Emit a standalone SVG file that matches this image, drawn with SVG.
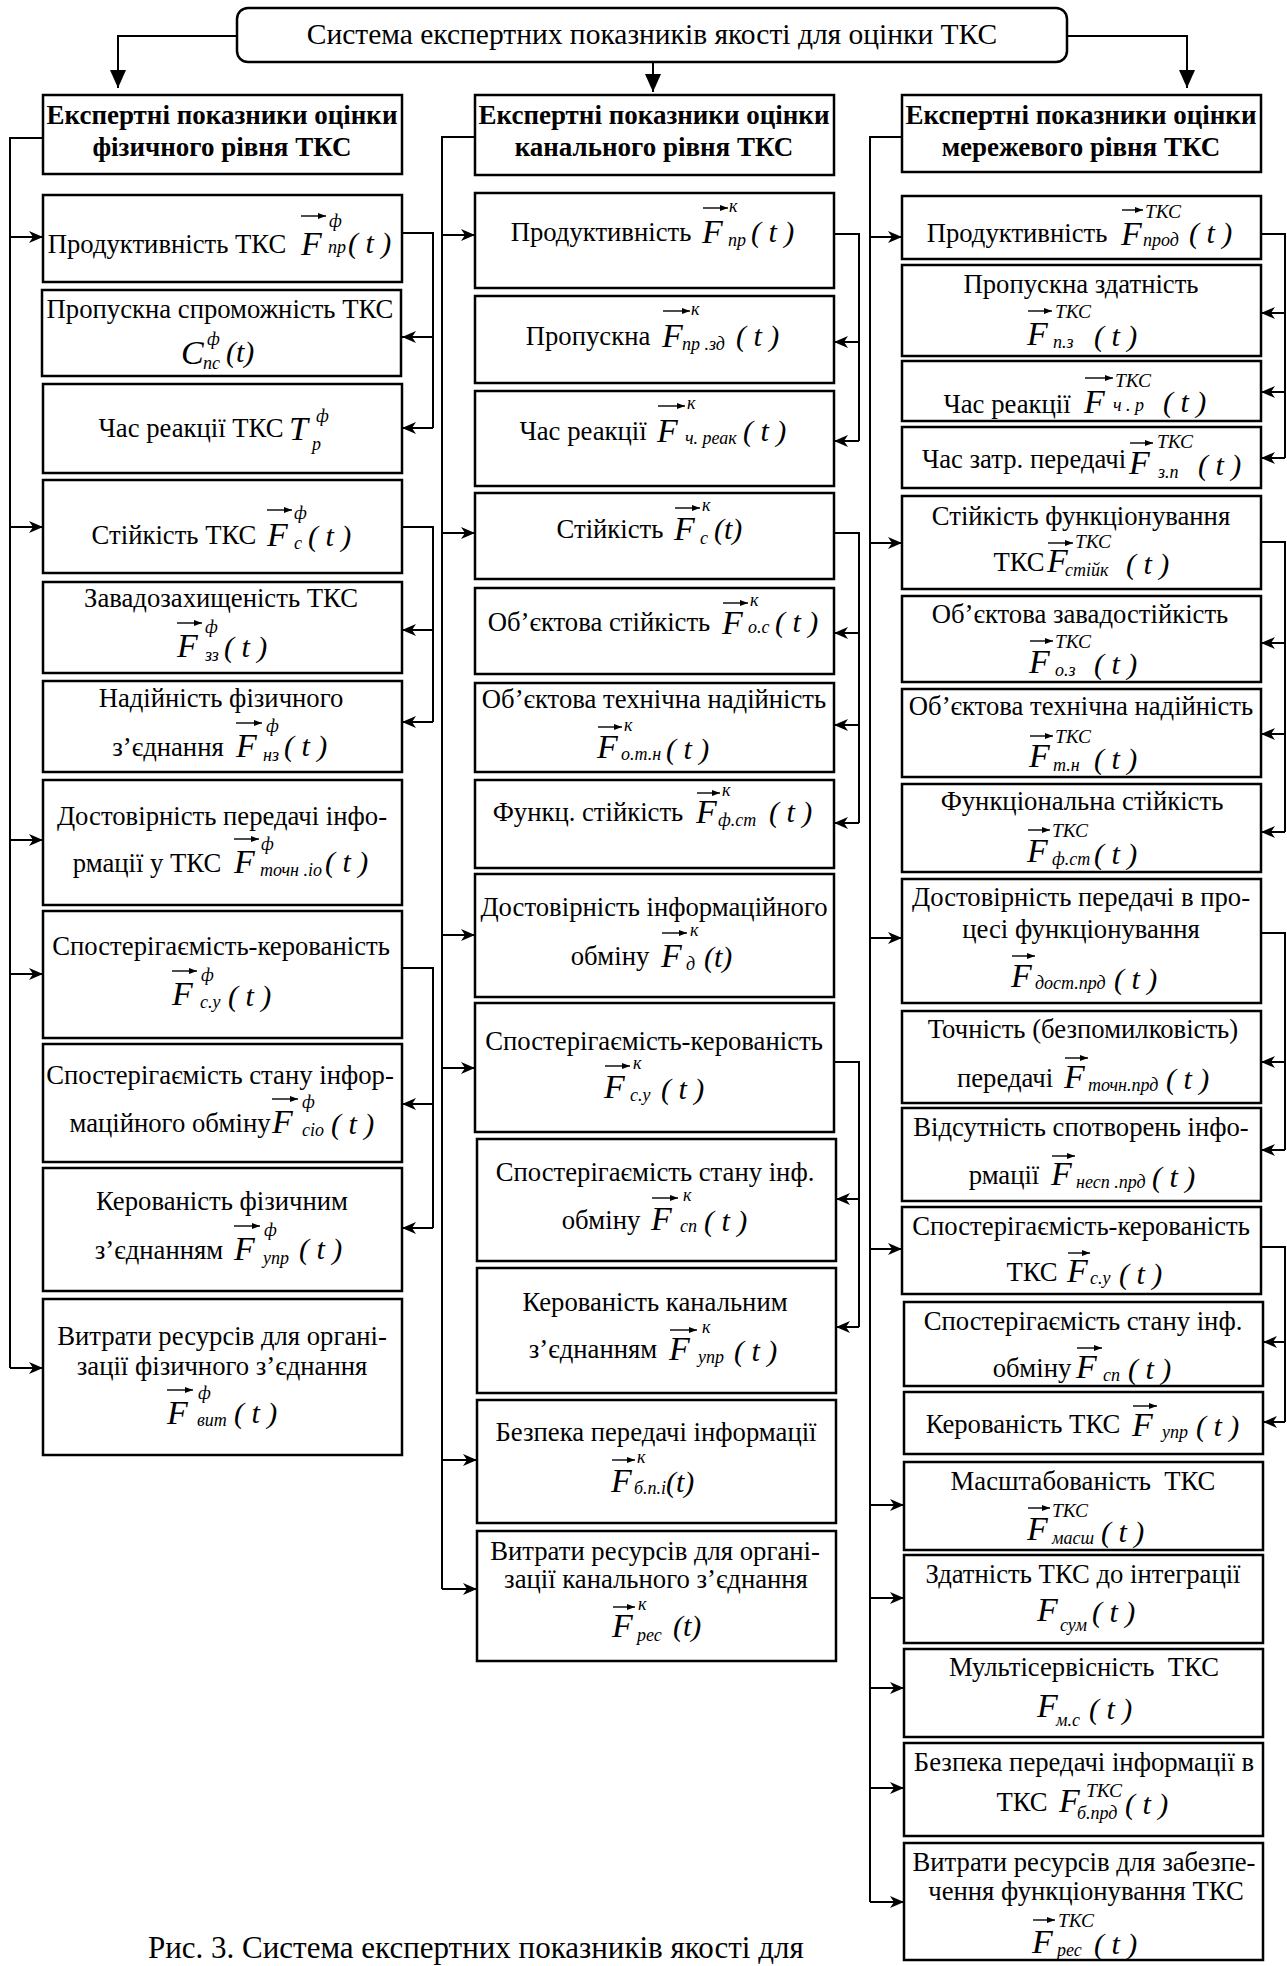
<svg xmlns="http://www.w3.org/2000/svg" width="1287" height="1966" viewBox="0 0 1287 1966">
<style>
text{font-family:"Liberation Serif","Times New Roman",serif;fill:#000}
.t{font-size:26.7px;text-anchor:middle}
.h{font-size:27px;font-weight:bold;text-anchor:middle}
.ti{font-size:29.5px;text-anchor:middle}
.cap{font-size:31px}
.F{font-size:34px;font-style:italic}
.s{font-size:18px;font-style:italic}
.S{font-size:19.5px;font-style:italic}
.p{font-size:30px;font-style:italic}
.b{fill:#fff;stroke:#000;stroke-width:2.5}
.c{fill:none;stroke:#000;stroke-width:2}
.v{fill:none;stroke:#000;stroke-width:1.4;marker-end:url(#vec)}
.a{marker-end:url(#arr)}
.A{marker-end:url(#big)}
</style>
<defs>
<marker id="arr" markerUnits="userSpaceOnUse" markerWidth="14" markerHeight="12" refX="14" refY="6" orient="auto"><path d="M0,0 L14,6 L0,12 L4,6 z" fill="#000"/></marker>
<marker id="big" markerUnits="userSpaceOnUse" markerWidth="16" markerHeight="18" refX="8" refY="18" orient="0"><path d="M0,0 L16,0 L8,18 z" fill="#000"/></marker>
<marker id="vec" markerUnits="userSpaceOnUse" markerWidth="8" markerHeight="6" refX="8" refY="3" orient="auto"><path d="M0,0 L8,3 L0,6 z" fill="#000"/></marker>
</defs>
<rect width="1287" height="1966" fill="#fff"/>

<g id="connectors">
<path class="c A" d="M237,36 H118 V88"/>
<path class="c A" d="M653,62 V92"/>
<path class="c A" d="M1067,36 H1187 V88"/>
<path class="c" d="M43,138 H10 V1368"/>
<path class="c a" d="M10,237 H43"/>
<path class="c a" d="M10,527 H43"/>
<path class="c a" d="M10,840 H43"/>
<path class="c a" d="M10,974 H43"/>
<path class="c a" d="M10,1368 H43"/>
<path class="c" d="M402,233 H433 V428"/>
<path class="c a" d="M433,337 H402"/>
<path class="c a" d="M433,428 H402"/>
<path class="c" d="M402,527 H433 V722"/>
<path class="c a" d="M433,630 H402"/>
<path class="c a" d="M433,722 H402"/>
<path class="c" d="M402,968 H433 V1228"/>
<path class="c a" d="M433,1104 H402"/>
<path class="c a" d="M433,1228 H402"/>
<path class="c" d="M475,137 H442 V1589"/>
<path class="c a" d="M442,235 H475"/>
<path class="c a" d="M442,533 H475"/>
<path class="c a" d="M442,935 H475"/>
<path class="c a" d="M442,1068 H475"/>
<path class="c a" d="M442,1460 H477"/>
<path class="c a" d="M442,1589 H477"/>
<path class="c" d="M834,234 H859 V441"/>
<path class="c a" d="M859,342 H834"/>
<path class="c a" d="M859,441 H834"/>
<path class="c" d="M834,533 H859 V823"/>
<path class="c a" d="M859,633 H834"/>
<path class="c a" d="M859,725 H834"/>
<path class="c a" d="M859,823 H834"/>
<path class="c" d="M834,1062 H859 V1327"/>
<path class="c a" d="M859,1199 H836"/>
<path class="c a" d="M859,1327 H836"/>
<path class="c" d="M902,137 H870 V1902"/>
<path class="c a" d="M870,237 H902"/>
<path class="c a" d="M870,543 H902"/>
<path class="c a" d="M870,938 H902"/>
<path class="c a" d="M870,1249 H902"/>
<path class="c a" d="M870,1505 H904"/>
<path class="c a" d="M870,1598 H904"/>
<path class="c a" d="M870,1688 H904"/>
<path class="c a" d="M870,1788 H904"/>
<path class="c a" d="M870,1902 H904"/>
<path class="c" d="M1261,234 H1285 V458"/>
<path class="c a" d="M1285,313 H1261"/>
<path class="c a" d="M1285,392 H1261"/>
<path class="c a" d="M1285,458 H1261"/>
<path class="c" d="M1261,542 H1285 V832"/>
<path class="c a" d="M1285,643 H1261"/>
<path class="c a" d="M1285,734 H1261"/>
<path class="c a" d="M1285,832 H1261"/>
<path class="c" d="M1261,933 H1285 V1150"/>
<path class="c a" d="M1285,1062 H1261"/>
<path class="c a" d="M1285,1150 H1261"/>
<path class="c" d="M1261,1247 H1285 V1422"/>
<path class="c a" d="M1285,1342 H1263"/>
<path class="c a" d="M1285,1422 H1263"/>
</g>

<g id="root">
<rect class="b" x="237" y="8" width="830" height="54" rx="11"/>
<text class="ti" x="652" y="44">Система експертних показників якості для оцінки ТКС</text>
</g>

<g id="hdrL"><rect class="b" x="43" y="95" width="359" height="79"/>
<text class="h" x="222" y="124">Експертні показники оцінки</text><text class="h" x="222" y="156">фізичного рівня ТКС</text></g>
<g id="hdrM"><rect class="b" x="475" y="95" width="359" height="80"/>
<text class="h" x="654" y="124">Експертні показники оцінки</text><text class="h" x="654" y="156">канального рівня ТКС</text></g>
<g id="hdrR"><rect class="b" x="902" y="95" width="359" height="77"/>
<text class="h" x="1081" y="124">Експертні показники оцінки</text><text class="h" x="1081" y="156">мережевого рівня ТКС</text></g>

<!-- LEFT COLUMN -->
<g id="L1"><rect class="b" x="43" y="195" width="359" height="87"/>
<text class="t" x="167" y="253">Продуктивність ТКС</text>
<text class="F" x="301" y="255">F</text><path class="v" d="M301,216 H326"/>
<text class="s" x="329" y="227">ф</text><text class="s" x="328" y="253">пр</text><text class="p" x="348" y="253">( t )</text></g>

<g id="L2"><rect class="b" x="42" y="290" width="359" height="86"/>
<text class="t" x="220" y="318">Пропускна спроможність ТКС</text>
<text class="F" x="181" y="364">C</text>
<text class="s" x="207" y="345">ф</text><text class="s" x="203" y="369">пс</text><text class="p" x="226" y="362">(t)</text></g>

<g id="L3"><rect class="b" x="43" y="384" width="359" height="89"/>
<text class="t" x="191" y="437">Час реакції ТКС</text>
<text class="F" x="289" y="440">T</text>
<text class="s" x="316" y="422">ф</text><text class="s" x="312" y="450">р</text></g>

<g id="L4"><rect class="b" x="43" y="480" width="359" height="93"/>
<text class="t" x="174" y="544">Стійкість ТКС</text>
<text class="F" x="267" y="546">F</text><path class="v" d="M267,510 H292"/>
<text class="s" x="294" y="519">ф</text><text class="s" x="294" y="549">с</text><text class="p" x="308" y="546">( t )</text></g>

<g id="L5"><rect class="b" x="43" y="582" width="359" height="91"/>
<text class="t" x="221" y="607">Завадозахищеність ТКС</text>
<text class="F" x="177" y="657">F</text><path class="v" d="M177,623 H202"/>
<text class="s" x="205" y="633">ф</text><text class="s" x="205" y="661">зз</text><text class="p" x="224" y="657">( t )</text></g>

<g id="L6"><rect class="b" x="43" y="681" width="359" height="91"/>
<text class="t" x="221" y="707">Надійність фізичного</text>
<text class="t" x="168" y="756">з’єднання</text>
<text class="F" x="236" y="757">F</text><path class="v" d="M236,723 H262"/>
<text class="s" x="266" y="732">ф</text><text class="s" x="263" y="761">нз</text><text class="p" x="284" y="756">( t )</text></g>

<g id="L7"><rect class="b" x="43" y="780" width="359" height="125"/>
<text class="t" x="222" y="825">Достовірність передачі інфо-</text>
<text class="t" x="147" y="872">рмації у ТКС</text>
<text class="F" x="234" y="873">F</text><path class="v" d="M234,839 H259"/>
<text class="s" x="261" y="850">ф</text><text class="s" x="260" y="876">точн .іо</text><text class="p" x="325" y="872">( t )</text></g>

<g id="L8"><rect class="b" x="43" y="911" width="359" height="127"/>
<text class="t" x="221" y="955">Спостерігаємість-керованість</text>
<text class="F" x="172" y="1005">F</text><path class="v" d="M172,971 H197"/>
<text class="s" x="201" y="981">ф</text><text class="s" x="200" y="1008">с.у</text><text class="p" x="228" y="1006">( t )</text></g>

<g id="L9"><rect class="b" x="43" y="1044" width="359" height="118"/>
<text class="t" x="220" y="1084">Спостерігаємість стану інфор-</text>
<text class="t" x="170" y="1132">маційного обміну</text>
<text class="F" x="272" y="1133">F</text><path class="v" d="M272,1099 H298"/>
<text class="s" x="302" y="1108">ф</text><text class="s" x="302" y="1136">сіо</text><text class="p" x="331" y="1134">( t )</text></g>

<g id="L10"><rect class="b" x="43" y="1168" width="359" height="123"/>
<text class="t" x="222" y="1210">Керованість фізичним</text>
<text class="t" x="159" y="1259">з’єднанням</text>
<text class="F" x="234" y="1260">F</text><path class="v" d="M234,1226 H260"/>
<text class="s" x="264" y="1236">ф</text><text class="s" x="263" y="1264">упр</text><text class="p" x="299" y="1259">( t )</text></g>

<g id="L11"><rect class="b" x="43" y="1299" width="359" height="156"/>
<text class="t" x="222" y="1345">Витрати ресурсів для органі-</text>
<text class="t" x="222" y="1375">зації фізичного з’єднання</text>
<text class="F" x="167" y="1424">F</text><path class="v" d="M167,1390 H193"/>
<text class="s" x="198" y="1399">ф</text><text class="s" x="197" y="1426">вит</text><text class="p" x="234" y="1423">( t )</text></g>

<!-- MIDDLE COLUMN -->
<g id="M1"><rect class="b" x="475" y="193" width="359" height="95"/>
<text class="t" x="601" y="241">Продуктивність</text>
<text class="F" x="702" y="243">F</text><path class="v" d="M703,208 H728"/>
<text class="s" x="729" y="212">к</text><text class="s" x="728" y="246">пр</text><text class="p" x="751" y="242">( t )</text></g>

<g id="M2"><rect class="b" x="475" y="296" width="359" height="87"/>
<text class="t" x="588" y="345">Пропускна</text>
<text class="F" x="662" y="347">F</text><path class="v" d="M663,311 H690"/>
<text class="s" x="691" y="315">к</text><text class="s" x="682" y="350">пр .зд</text><text class="p" x="736" y="346">( t )</text></g>

<g id="M3"><rect class="b" x="475" y="391" width="359" height="95"/>
<text class="t" x="583" y="440">Час реакції</text>
<text class="F" x="657" y="442">F</text><path class="v" d="M658,406 H685"/>
<text class="s" x="687" y="409">к</text><text class="s" x="685" y="444">ч. реак</text><text class="p" x="743" y="441">( t )</text></g>

<g id="M4"><rect class="b" x="475" y="493" width="359" height="86"/>
<text class="t" x="610" y="538">Стійкість</text>
<text class="F" x="674" y="540">F</text><path class="v" d="M675,508 H700"/>
<text class="s" x="702" y="511">к</text><text class="s" x="700" y="544">с</text><text class="p" x="714" y="539">(t)</text></g>

<g id="M5"><rect class="b" x="475" y="588" width="359" height="86"/>
<text class="t" x="599" y="631">Об’єктова стійкість</text>
<text class="F" x="722" y="634">F</text><path class="v" d="M723,603 H748"/>
<text class="s" x="750" y="606">к</text><text class="s" x="748" y="633">о.с</text><text class="p" x="775" y="632">( t )</text></g>

<g id="M6"><rect class="b" x="475" y="683" width="359" height="89"/>
<text class="t" x="654" y="708">Об’єктова технічна надійність</text>
<text class="F" x="597" y="758">F</text><path class="v" d="M598,727 H622"/>
<text class="s" x="624" y="731">к</text><text class="s" x="621" y="760">о.т.н</text><text class="p" x="666" y="759">( t )</text></g>

<g id="M7"><rect class="b" x="475" y="780" width="359" height="88"/>
<text class="t" x="588" y="821">Функц. стійкість</text>
<text class="F" x="696" y="823">F</text><path class="v" d="M697,793 H720"/>
<text class="s" x="722" y="796">к</text><text class="s" x="718" y="826">ф.ст</text><text class="p" x="769" y="822">( t )</text></g>

<g id="M8"><rect class="b" x="475" y="874" width="359" height="123"/>
<text class="t" x="654" y="916">Достовірність інформаційного</text>
<text class="F" x="661" y="967">F</text><path class="v" d="M662,933 H687"/>
<text class="t" x="610" y="965">обміну</text>
<text class="s" x="690" y="936">к</text><text class="s" x="686" y="970">д</text><text class="p" x="704" y="967">(t)</text></g>

<g id="M9"><rect class="b" x="475" y="1003" width="359" height="129"/>
<text class="t" x="654" y="1050">Спостерігаємість-керованість</text>
<text class="F" x="604" y="1098">F</text><path class="v" d="M605,1066 H630"/>
<text class="s" x="633" y="1069">к</text><text class="s" x="630" y="1101">с.у</text><text class="p" x="661" y="1099">( t )</text></g>

<g id="M10"><rect class="b" x="477" y="1139" width="359" height="122"/>
<text class="t" x="655" y="1181">Спостерігаємість стану інф.</text>
<text class="t" x="601" y="1229">обміну</text>
<text class="F" x="651" y="1230">F</text><path class="v" d="M652,1198 H678"/>
<text class="s" x="683" y="1201">к</text><text class="s" x="680" y="1232">сп</text><text class="p" x="704" y="1231">( t )</text></g>

<g id="M11"><rect class="b" x="477" y="1268" width="359" height="125"/>
<text class="t" x="655" y="1311">Керованість канальним</text>
<text class="t" x="593" y="1358">з’єднанням</text>
<text class="F" x="669" y="1360">F</text><path class="v" d="M670,1330 H697"/>
<text class="s" x="702" y="1333">к</text><text class="s" x="698" y="1363">упр</text><text class="p" x="734" y="1361">( t )</text></g>

<g id="M12"><rect class="b" x="477" y="1400" width="359" height="123"/>
<text class="t" x="656" y="1441">Безпека передачі інформації</text>
<text class="F" x="611" y="1492">F</text><path class="v" d="M612,1460 H635"/>
<text class="s" x="637" y="1463">к</text><text class="s" x="634" y="1494">б.п.і</text><text class="p" x="666" y="1492">(t)</text></g>

<g id="M13"><rect class="b" x="477" y="1531" width="359" height="130"/>
<text class="t" x="655" y="1560">Витрати ресурсів для органі-</text>
<text class="t" x="656" y="1588">зації канального з’єднання</text>
<text class="F" x="612" y="1637">F</text><path class="v" d="M613,1607 H635"/>
<text class="s" x="638" y="1610">к</text><text class="s" x="637" y="1641">рес</text><text class="p" x="673" y="1636">(t)</text></g>

<!-- RIGHT COLUMN -->
<g id="R1"><rect class="b" x="902" y="196" width="359" height="63"/>
<text class="t" x="1017" y="242">Продуктивність</text>
<text class="F" x="1121" y="245">F</text><path class="v" d="M1122,210 H1143"/>
<text class="S" x="1145" y="218">ТКС</text><text class="s" x="1143" y="246">прод</text><text class="p" x="1189" y="243">( t )</text></g>

<g id="R2"><rect class="b" x="902" y="265" width="359" height="91"/>
<text class="t" x="1081" y="293">Пропускна здатність</text>
<text class="F" x="1027" y="345">F</text><path class="v" d="M1028,311 H1052"/>
<text class="S" x="1055" y="318">ТКС</text><text class="s" x="1053" y="348">п.з</text><text class="p" x="1094" y="346">( t )</text></g>

<g id="R3"><rect class="b" x="902" y="361" width="359" height="60"/>
<text class="t" x="1007" y="413">Час реакції</text>
<text class="F" x="1084" y="413">F</text><path class="v" d="M1085,378 H1113"/>
<text class="S" x="1115" y="387">ТКС</text><text class="s" x="1113" y="411">ч . р</text><text class="p" x="1163" y="412">( t )</text></g>

<g id="R4"><rect class="b" x="902" y="427" width="359" height="61"/>
<text class="t" x="1024" y="468">Час затр. передачі</text>
<text class="F" x="1129" y="474">F</text><path class="v" d="M1130,443 H1153"/>
<text class="S" x="1157" y="448">ТКС</text><text class="s" x="1158" y="478">з.п</text><text class="p" x="1198" y="475">( t )</text></g>

<g id="R5"><rect class="b" x="902" y="496" width="359" height="93"/>
<text class="t" x="1081" y="525">Стійкість функціонування</text>
<text class="t" x="1019" y="571">ТКС</text>
<text class="F" x="1047" y="572">F</text><path class="v" d="M1048,543 H1073"/>
<text class="S" x="1075" y="548">ТКС</text><text class="s" x="1065" y="576">стійк</text><text class="p" x="1126" y="574">( t )</text></g>

<g id="R6"><rect class="b" x="902" y="596" width="359" height="86"/>
<text class="t" x="1080" y="623">Об’єктова завадостійкість</text>
<text class="F" x="1029" y="673">F</text><path class="v" d="M1030,641 H1053"/>
<text class="S" x="1055" y="648">ТКС</text><text class="s" x="1055" y="676">о.з</text><text class="p" x="1094" y="674">( t )</text></g>

<g id="R7"><rect class="b" x="902" y="689" width="359" height="88"/>
<text class="t" x="1081" y="715">Об’єктова технічна надійність</text>
<text class="F" x="1029" y="767">F</text><path class="v" d="M1030,736 H1053"/>
<text class="S" x="1055" y="743">ТКС</text><text class="s" x="1053" y="771">т.н</text><text class="p" x="1094" y="769">( t )</text></g>

<g id="R8"><rect class="b" x="902" y="784" width="359" height="88"/>
<text class="t" x="1082" y="810">Функціональна стійкість</text>
<text class="F" x="1027" y="862">F</text><path class="v" d="M1028,830 H1050"/>
<text class="S" x="1052" y="837">ТКС</text><text class="s" x="1052" y="865">ф.ст</text><text class="p" x="1094" y="864">( t )</text></g>

<g id="R9"><rect class="b" x="902" y="879" width="359" height="124"/>
<text class="t" x="1081" y="906">Достовірність передачі в про-</text>
<text class="t" x="1081" y="938">цесі функціонування</text>
<text class="F" x="1011" y="987">F</text><path class="v" d="M1012,956 H1035"/>
<text class="s" x="1035" y="989">дост.прд</text><text class="p" x="1114" y="989">( t )</text></g>

<g id="R10"><rect class="b" x="902" y="1011" width="359" height="92"/>
<text class="t" x="1083" y="1038">Точність (безпомилковість)</text>
<text class="t" x="1005" y="1087">передачі</text>
<text class="F" x="1064" y="1088">F</text><path class="v" d="M1065,1058 H1088"/>
<text class="s" x="1088" y="1091">точн.прд</text><text class="p" x="1166" y="1089">( t )</text></g>

<g id="R11"><rect class="b" x="902" y="1108" width="359" height="93"/>
<text class="t" x="1081" y="1136">Відсутність спотворень інфо-</text>
<text class="t" x="1004" y="1184">рмації</text>
<text class="F" x="1051" y="1185">F</text><path class="v" d="M1052,1156 H1075"/>
<text class="s" x="1076" y="1188">несп .прд</text><text class="p" x="1152" y="1187">( t )</text></g>

<g id="R12"><rect class="b" x="902" y="1207" width="359" height="87"/>
<text class="t" x="1081" y="1235">Спостерігаємість-керованість</text>
<text class="t" x="1032" y="1281">ТКС</text>
<text class="F" x="1067" y="1282">F</text><path class="v" d="M1068,1253 H1090"/>
<text class="s" x="1090" y="1284">с.у</text><text class="p" x="1119" y="1284">( t )</text></g>

<g id="R13"><rect class="b" x="904" y="1302" width="359" height="84"/>
<text class="t" x="1083" y="1330">Спостерігаємість стану інф.</text>
<text class="t" x="1032" y="1377">обміну</text>
<text class="F" x="1076" y="1378">F</text><path class="v" d="M1077,1348 H1102"/>
<text class="s" x="1103" y="1381">сп</text><text class="p" x="1128" y="1379">( t )</text></g>

<g id="R14"><rect class="b" x="904" y="1392" width="359" height="62"/>
<text class="t" x="1023" y="1433">Керованість ТКС</text>
<text class="F" x="1132" y="1436">F</text><path class="v" d="M1133,1406 H1157"/>
<text class="s" x="1162" y="1438">упр</text><text class="p" x="1196" y="1436">( t )</text></g>

<g id="R15"><rect class="b" x="904" y="1462" width="359" height="88"/>
<text class="t" x="1083" y="1490">Масштабованість&#160; ТКС</text>
<text class="F" x="1027" y="1540">F</text><path class="v" d="M1028,1508 H1050"/>
<text class="S" x="1052" y="1517">ТКС</text><text class="s" x="1052" y="1544">масш</text><text class="p" x="1101" y="1542">( t )</text></g>

<g id="R16"><rect class="b" x="904" y="1555" width="359" height="88"/>
<text class="t" x="1083" y="1583">Здатність ТКС до інтеграції</text>
<text class="F" x="1037" y="1621">F</text>
<text class="s" x="1060" y="1631">сум</text><text class="p" x="1092" y="1622">( t )</text></g>

<g id="R17"><rect class="b" x="904" y="1649" width="359" height="88"/>
<text class="t" x="1084" y="1676">Мультісервісність&#160; ТКС</text>
<text class="F" x="1037" y="1717">F</text>
<text class="s" x="1056" y="1726">м.с</text><text class="p" x="1089" y="1719">( t )</text></g>

<g id="R18"><rect class="b" x="904" y="1743" width="359" height="93"/>
<text class="t" x="1084" y="1771">Безпека передачі інформації в</text>
<text class="t" x="1022" y="1811">ТКС</text>
<text class="F" x="1059" y="1812">F</text>
<text class="S" x="1086" y="1797">ТКС</text><text class="s" x="1077" y="1819">б.прд</text><text class="p" x="1125" y="1814">( t )</text></g>

<g id="R19"><rect class="b" x="904" y="1843" width="359" height="117"/>
<text class="t" x="1084" y="1871">Витрати ресурсів для забезпе-</text>
<text class="t" x="1086" y="1900">чення функціонування ТКС</text>
<text class="F" x="1032" y="1953">F</text><path class="v" d="M1033,1920 H1055"/>
<text class="S" x="1058" y="1927">ТКС</text><text class="s" x="1057" y="1956">рес</text><text class="p" x="1094" y="1954">( t )</text></g>

<text class="cap" x="148" y="1958">Рис. 3. Система експертних показників якості для</text>
</svg>
